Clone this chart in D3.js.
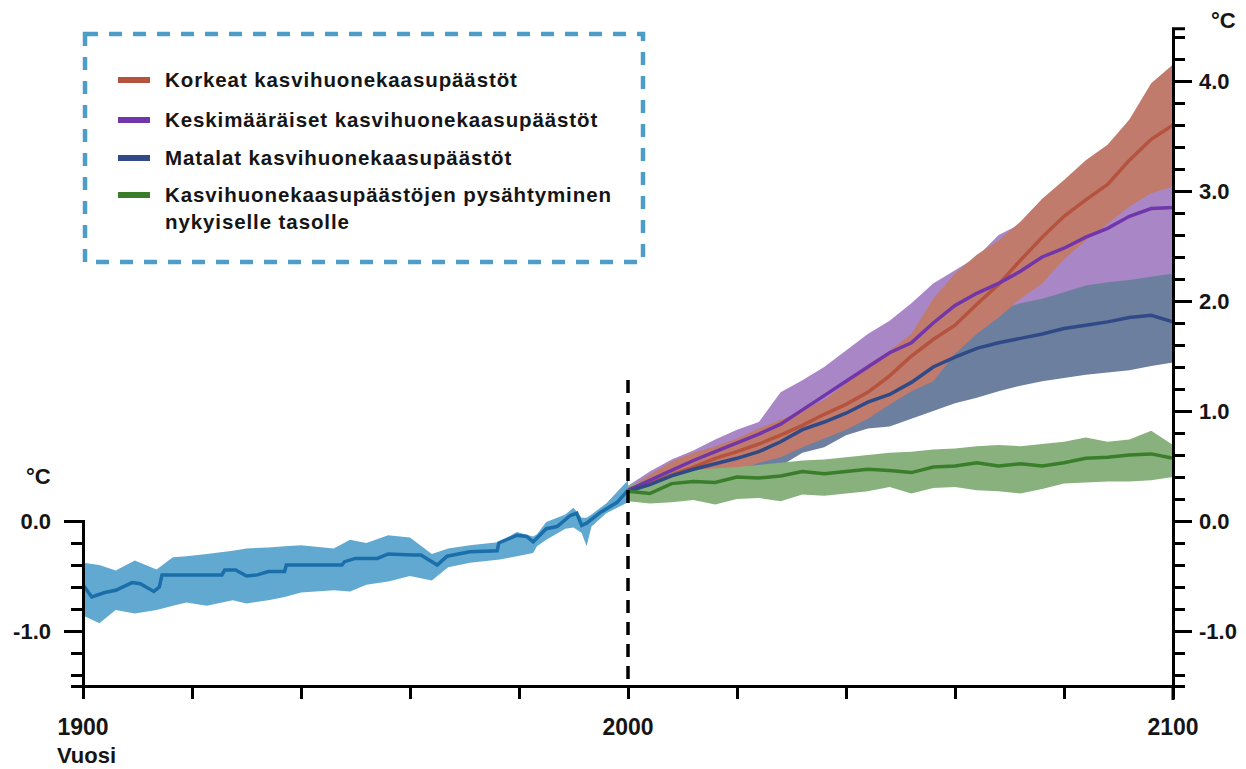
<!DOCTYPE html>
<html>
<head>
<meta charset="utf-8">
<script src="https://cdn.jsdelivr.net/npm/d3@7"></script>
<style>
  html, body { margin: 0; padding: 0; background: #fff; }
  svg { display: block; font-family: "Liberation Sans", Arial, sans-serif; }
  .lbl { font-weight: bold; fill: #151515; }
</style>
</head>
<body>
<div id="chart"></div>
<script>
// historical observations 1900-2000
const histYears = [1900, 1901.6, 1904, 1906, 1909, 1910.5, 1913, 1914, 1914.5, 1925.5, 1926, 1928, 1930, 1932, 1934, 1937, 1937.3, 1947.5, 1948, 1950, 1954, 1956, 1960.5, 1962, 1965, 1966.8, 1971, 1976, 1976.3, 1979.6, 1981.4, 1982.6, 1985, 1987, 1989.4, 1990.6, 1991.5, 1992.4, 1995, 1998, 2000];
const histMean = [-0.58, -0.69, -0.65, -0.63, -0.56, -0.57, -0.64, -0.60, -0.49, -0.49, -0.445, -0.445, -0.50, -0.49, -0.46, -0.46, -0.40, -0.40, -0.37, -0.34, -0.34, -0.30, -0.31, -0.31, -0.40, -0.32, -0.28, -0.27, -0.20, -0.13, -0.14, -0.19, -0.07, -0.05, 0.05, 0.07, -0.04, -0.02, 0.08, 0.17, 0.28];

const histBandYears = [1900, 1903, 1906, 1909.5, 1913.5, 1916.5, 1919, 1922.7, 1927.5, 1930, 1934, 1937, 1940, 1946, 1949, 1952, 1956, 1960, 1964, 1967, 1971, 1976.5, 1979.6, 1982.6, 1983.3, 1985, 1988.5, 1990, 1991.5, 1992.4, 1993.3, 1996, 2000];
const histHigh = [-0.38, -0.40, -0.45, -0.36, -0.44, -0.33, -0.32, -0.30, -0.27, -0.25, -0.24, -0.23, -0.22, -0.25, -0.17, -0.20, -0.13, -0.15, -0.30, -0.25, -0.22, -0.19, -0.10, -0.14, -0.12, -0.01, 0.06, 0.12, 0.03, 0.03, 0.06, 0.16, 0.37];
const histLow = [-0.86, -0.93, -0.81, -0.84, -0.81, -0.77, -0.74, -0.77, -0.72, -0.75, -0.72, -0.69, -0.65, -0.63, -0.64, -0.58, -0.55, -0.50, -0.54, -0.42, -0.38, -0.35, -0.32, -0.29, -0.23, -0.17, -0.07, -0.06, -0.11, -0.23, -0.05, 0.07, 0.17];

// scenario projections 2000-2100
const projYears = [2000, 2004, 2008, 2012, 2016, 2020, 2024, 2028, 2032, 2036, 2040, 2044, 2048, 2052, 2056, 2060, 2064, 2068, 2072, 2076, 2080, 2084, 2088, 2092, 2096, 2100];

const highMean = [0.27, 0.34, 0.42, 0.49, 0.57, 0.63, 0.70, 0.78, 0.87, 0.97, 1.06, 1.17, 1.32, 1.50, 1.65, 1.78, 1.97, 2.15, 2.37, 2.58, 2.77, 2.92, 3.06, 3.28, 3.47, 3.60];
const highUpper = [0.30, 0.42, 0.54, 0.62, 0.68, 0.75, 0.84, 0.92, 1.00, 1.10, 1.25, 1.42, 1.55, 1.70, 2.02, 2.25, 2.42, 2.55, 2.72, 2.93, 3.10, 3.28, 3.42, 3.65, 3.98, 4.15];
const highLower = [0.22, 0.22, 0.28, 0.33, 0.37, 0.46, 0.53, 0.58, 0.67, 0.75, 0.83, 0.93, 1.06, 1.18, 1.27, 1.52, 1.70, 1.85, 2.02, 2.16, 2.38, 2.55, 2.70, 2.86, 2.98, 3.04];

const midMean = [0.28, 0.37, 0.46, 0.55, 0.63, 0.71, 0.79, 0.88, 1.01, 1.14, 1.27, 1.40, 1.53, 1.62, 1.80, 1.96, 2.07, 2.16, 2.27, 2.40, 2.48, 2.58, 2.66, 2.77, 2.84, 2.85];
const midUpper = [0.32, 0.45, 0.56, 0.64, 0.74, 0.83, 0.90, 1.17, 1.28, 1.40, 1.55, 1.70, 1.82, 1.98, 2.16, 2.28, 2.40, 2.60, 2.70, 2.78, 2.86, 2.92, 2.98, 3.02, 3.06, 3.08];
const midLower = [0.22, 0.26, 0.32, 0.38, 0.44, 0.50, 0.58, 0.66, 0.76, 0.85, 0.95, 1.04, 1.12, 1.20, 1.30, 1.40, 1.48, 1.55, 1.60, 1.65, 1.70, 1.75, 1.80, 1.84, 1.87, 1.90];

const lowMean = [0.27, 0.33, 0.41, 0.47, 0.52, 0.57, 0.63, 0.72, 0.83, 0.90, 0.98, 1.08, 1.15, 1.26, 1.40, 1.49, 1.57, 1.62, 1.66, 1.70, 1.75, 1.78, 1.81, 1.85, 1.87, 1.81];
const lowUpper = [0.30, 0.38, 0.47, 0.56, 0.65, 0.72, 0.80, 0.90, 1.00, 1.10, 1.20, 1.30, 1.38, 1.48, 1.62, 1.76, 1.86, 1.92, 1.98, 2.02, 2.08, 2.14, 2.17, 2.19, 2.22, 2.25];
const lowLower = [0.20, 0.21, 0.22, 0.26, 0.32, 0.38, 0.41, 0.50, 0.62, 0.67, 0.78, 0.84, 0.86, 0.93, 1.00, 1.07, 1.12, 1.18, 1.23, 1.27, 1.30, 1.33, 1.35, 1.37, 1.41, 1.44];

const constMean = [0.27, 0.25, 0.34, 0.36, 0.35, 0.40, 0.39, 0.41, 0.45, 0.43, 0.45, 0.47, 0.46, 0.44, 0.49, 0.50, 0.53, 0.50, 0.52, 0.50, 0.53, 0.57, 0.58, 0.60, 0.61, 0.57];
const constUpper = [0.32, 0.38, 0.44, 0.46, 0.48, 0.49, 0.51, 0.53, 0.55, 0.56, 0.58, 0.60, 0.62, 0.63, 0.65, 0.66, 0.68, 0.69, 0.68, 0.70, 0.72, 0.76, 0.72, 0.74, 0.82, 0.69];
const constLower = [0.18, 0.16, 0.17, 0.19, 0.15, 0.20, 0.21, 0.18, 0.24, 0.23, 0.25, 0.27, 0.31, 0.25, 0.30, 0.31, 0.28, 0.27, 0.25, 0.29, 0.34, 0.35, 0.36, 0.36, 0.37, 0.40];

const legendLabels = [
  ['Korkeat kasvihuonekaasupäästöt'],
  ['Keskimääräiset kasvihuonekaasupäästöt'],
  ['Matalat kasvihuonekaasupäästöt'],
  ['Kasvihuonekaasupäästöjen pysähtyminen', 'nykyiselle tasolle']
];
const leftTicks = [0, -1];
const rightTicks = [-1, 0, 1, 2, 3, 4];
const xLabels = [1900, 2000, 2100];

const width = 1246, height = 769;

const svg = d3.select('#chart')
  .append('svg')
  .attr('width', width)
  .attr('height', height);

const x = d3.scaleLinear()
  .domain([1900, 2100])
  .range([83, 1173]);

const y = d3.scaleLinear()
  .domain([-1.5, 0])
  .range([686, 521]);

const zip = (years, a, b) => years.map((yr, i) => ({ yr, a: a[i], b: b ? b[i] : null }));

const area = d3.area()
  .x(d => x(d.yr))
  .y0(d => y(d.b))
  .y1(d => y(d.a));

const line = d3.line()
  .x(d => x(d.yr))
  .y(d => y(d.a));

const scenarios = [
  { mean: midMean, up: midUpper, lo: midLower, band: '#a987c7', stroke: '#7137aa' },
  { mean: lowMean, up: lowUpper, lo: lowLower, band: '#6d7f9f', stroke: '#2f4a86' },
  { mean: highMean, up: highUpper, lo: highLower, band: '#c07b6c', stroke: '#b5533e' },
  { mean: constMean, up: constUpper, lo: constLower, band: '#88b17d', stroke: '#3a7e2c' }
];

// bands
svg.append('path')
  .datum(zip(histBandYears, histHigh, histLow))
  .attr('d', area)
  .attr('fill', '#62a9d2');

scenarios.forEach(s => {
  svg.append('path')
    .datum(zip(projYears, s.up, s.lo))
    .attr('d', area)
    .attr('fill', s.band);
});

// mean lines
svg.append('path')
  .datum(zip(histYears, histMean))
  .attr('d', line)
  .attr('fill', 'none')
  .attr('stroke', '#1a6ea9')
  .attr('stroke-width', 3.5);

[scenarios[2], scenarios[0], scenarios[1], scenarios[3]].forEach(s => {
  svg.append('path')
    .datum(zip(projYears, s.mean))
    .attr('d', line)
    .attr('fill', 'none')
    .attr('stroke', s.stroke)
    .attr('stroke-width', 3.5);
});

// dashed year 2000 marker
svg.append('line')
  .attr('x1', x(2000)).attr('x2', x(2000))
  .attr('y1', 380).attr('y2', y(-1.5))
  .attr('stroke', '#000')
  .attr('stroke-width', 3.5)
  .attr('stroke-dasharray', '13,9');

// left axis
const yLeft = d3.axisLeft(y)
  .tickValues(d3.range(0, 8).map(i => -i * 0.2))
  .tickFormat('')
  .tickSizeOuter(0)
  .tickSize(12);

svg.append('g')
  .attr('transform', `translate(${x(1900)},0)`)
  .call(yLeft)
  .call(g => g.selectAll('line').attr('stroke-width', 3))
  .call(g => g.select('.domain').attr('stroke-width', 3))
  .call(g => g.selectAll('.tick').filter(d => Math.abs(d) < 1e-6 || Math.abs(d + 1) < 1e-6)
    .select('line').attr('x2', -19));

leftTicks.forEach(v => {
  svg.append('text')
    .attr('class', 'lbl')
    .attr('x', 51).attr('y', y(v) + 8)
    .attr('text-anchor', 'end')
    .attr('font-size', 22)
    .text(v.toFixed(1));
});
svg.append('text')
  .attr('class', 'lbl')
  .attr('x', 26).attr('y', 484)
  .attr('font-size', 22)
  .text('°C');

// right axis
const yRight = d3.scaleLinear()
  .domain([-1.5, 4.48])
  .range([686, y(4.48)]);

const rAxis = d3.axisRight(yRight)
  .tickValues(d3.range(-7, 23).map(i => i * 0.2))
  .tickFormat('')
  .tickSizeOuter(0)
  .tickSize(12);

svg.append('g')
  .attr('transform', `translate(${x(2100)},0)`)
  .call(rAxis)
  .call(g => g.selectAll('line').attr('stroke-width', 3))
  .call(g => g.select('.domain').attr('stroke-width', 3))
  .call(g => g.selectAll('.tick').filter(d => Math.abs(d - Math.round(d)) < 1e-6)
    .select('line').attr('x2', 19));

svg.append('line')
  .attr('x1', x(2100)).attr('x2', x(2100))
  .attr('y1', 686).attr('y2', 700)
  .attr('stroke', '#000').attr('stroke-width', 3);

rightTicks.forEach(v => {
  svg.append('text')
    .attr('class', 'lbl')
    .attr('x', 1199).attr('y', yRight(v) + 8)
    .attr('font-size', 22)
    .text(v.toFixed(1));
});
svg.append('text')
  .attr('class', 'lbl')
  .attr('x', 1211).attr('y', 28)
  .attr('font-size', 22)
  .text('°C');

// bottom axis
const xAxis = d3.axisBottom(x)
  .tickValues(d3.range(1900, 2101, 20))
  .tickFormat('')
  .tickSizeOuter(0)
  .tickSize(13);

svg.append('g')
  .attr('transform', `translate(0,${y(-1.5)})`)
  .call(xAxis)
  .call(g => g.selectAll('line').attr('stroke-width', 3))
  .call(g => g.select('.domain').attr('stroke-width', 3));

xLabels.forEach(v => {
  svg.append('text')
    .attr('class', 'lbl')
    .attr('x', x(v)).attr('y', 735)
    .attr('text-anchor', 'middle')
    .attr('font-size', 23)
    .text(v);
});
svg.append('text')
  .attr('class', 'lbl')
  .attr('x', 57).attr('y', 763)
  .attr('font-size', 22)
  .text('Vuosi');

// legend
svg.append('rect')
  .attr('x', 85).attr('y', 34)
  .attr('width', 558).attr('height', 228)
  .attr('fill', 'none')
  .attr('stroke', '#4c9ec9')
  .attr('stroke-width', 4.5)
  .attr('stroke-dasharray', '13,11');

const legendY = [80, 120, 158, 195];
const legendColors = [scenarios[2].stroke, scenarios[0].stroke, scenarios[1].stroke, scenarios[3].stroke];

legendLabels.forEach((lines, i) => {
  svg.append('line')
    .attr('x1', 118).attr('x2', 150)
    .attr('y1', legendY[i]).attr('y2', legendY[i])
    .attr('stroke', legendColors[i])
    .attr('stroke-width', 6);
  lines.forEach((t, j) => {
    svg.append('text')
      .attr('class', 'lbl')
      .attr('x', 165).attr('y', legendY[i] + 7 + j * 27)
      .attr('font-size', 20.5)
      .attr('letter-spacing', 0.9)
      .text(t);
  });
});
</script>
</body>
</html>
